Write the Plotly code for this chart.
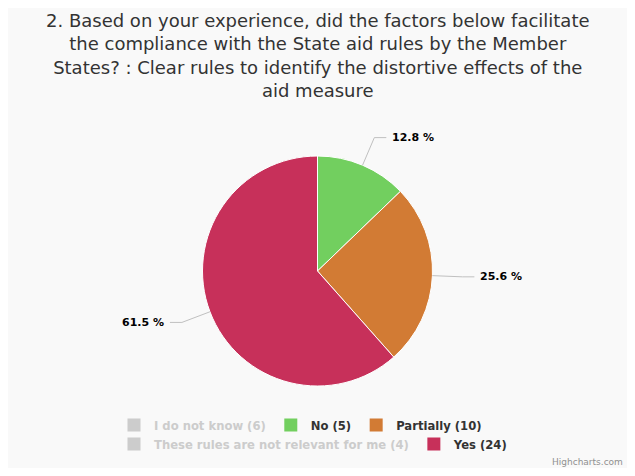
import math
import plotly.graph_objects as go

# data
title_text = ("2. Based on your experience, did the factors below facilitate<br>"
              "the compliance with the State aid rules by the Member<br>"
              "States? : Clear rules to identify the distortive effects of the<br>"
              "aid measure")
labels = ["I do not know (6)", "No (5)", "Partially (10)",
          "These rules are not relevant for me (4)", "Yes (24)"]
values = [6, 5, 10, 4, 24]
hidden = ["I do not know (6)", "These rules are not relevant for me (4)"]
colors = ["#cccccc", "#72cf5f", "#d27b34", "#cccccc", "#c7305a"]
legend_rows = ["legend", "legend", "legend", "legend2", "legend2"]

# page body has 8px margin, so the figure is a bit smaller than the window
OFF = 8
W, H = 635 - 2 * OFF, 476 - 2 * OFF
pie_top, pie_bot = 156 - OFF, 386 - OFF
dom_y = [(H - pie_bot) / H, (H - pie_top) / H]


def px(x):
    return (x - OFF) / W


def py(y):
    return 1 - (y - OFF) / H


fig = go.Figure()
fig.add_trace(go.Pie(
    labels=labels,
    values=values,
    sort=False,
    direction="clockwise",
    rotation=0,
    textinfo="none",
    hoverinfo="label+percent",
    showlegend=False,
    marker=dict(colors=colors, line=dict(color="white", width=1)),
    domain=dict(x=[0, 1], y=dom_y),
))

# legend entries (two rows like highcharts, hidden ones greyed)
for lab, col, leg in zip(labels, colors, legend_rows):
    name = lab
    if lab in hidden:
        name = "<span style='color:#cccccc'>" + lab + "</span>"
    fig.add_trace(go.Scatter(
        x=[None], y=[None], mode="markers", name=name, legend=leg,
        marker=dict(symbol="square", size=13, color=col),
        hoverinfo="skip", showlegend=True,
    ))

# outside labels with connectors, from the visible values
vis = [(l, v) for l, v in zip(labels, values) if l not in hidden]
total = sum(v for _, v in vis)
r = (pie_bot - pie_top) / 2
cx, cy = OFF + W / 2, OFF + (pie_top + pie_bot) / 2
cum = 0
annots = []
shapes = []
for l, v in vis:
    mid = (cum + v / 2) / total * 2 * math.pi
    cum += v
    sx, sy = math.sin(mid), -math.cos(mid)
    x0, y0 = cx + r * sx, cy + r * sy
    x1, y1 = cx + (r + 30) * sx, cy + (r + 30) * sy
    side = 1 if sx >= 0 else -1
    x2 = x1 + side * 12
    shapes.append(dict(
        type="path", xref="paper", yref="paper",
        path="M {} {} L {} {} L {} {}".format(px(x0), py(y0), px(x1), py(y1), px(x2), py(y1)),
        line=dict(color="#c0c0c0", width=1),
    ))
    annots.append(dict(
        x=px(x2 + side * 4), y=py(y1), xref="paper", yref="paper",
        text="<b>{:.1f} %</b>".format(v / total * 100),
        showarrow=False, xanchor="left" if side > 0 else "right", yanchor="middle",
        font=dict(family="DejaVu Sans", size=11, color="black"),
    ))

annots.append(dict(
    x=0.5, y=py(8), xref="paper", yref="paper",
    text=title_text, showarrow=False, xanchor="center", yanchor="top",
    font=dict(family="DejaVu Sans", size=18, color="#333333"),
))
annots.append(dict(
    x=px(625), y=py(462), xref="paper", yref="paper",
    text="Highcharts.com", showarrow=False, xanchor="right", yanchor="middle",
    font=dict(family="DejaVu Sans", size=9, color="#909090"),
))

legend_style = dict(
    orientation="h", x=px(114), xanchor="left", yanchor="middle",
    font=dict(family="DejaVu Sans", size=11.6, color="#333333", weight="bold"),
    bgcolor="rgba(0,0,0,0)", itemclick=False, itemdoubleclick=False,
)

fig.update_layout(
    width=W, height=H,
    margin=dict(l=0, r=0, t=0, b=0),
    paper_bgcolor="#f9f9f9",
    plot_bgcolor="#f9f9f9",
    font=dict(family="DejaVu Sans", color="#333333"),
    hiddenlabels=hidden,
    xaxis=dict(visible=False),
    yaxis=dict(visible=False),
    legend=dict(legend_style, y=py(425)),
    legend2=dict(legend_style, y=py(444)),
    annotations=annots,
    shapes=shapes,
)

fig.write_html("out.html")
